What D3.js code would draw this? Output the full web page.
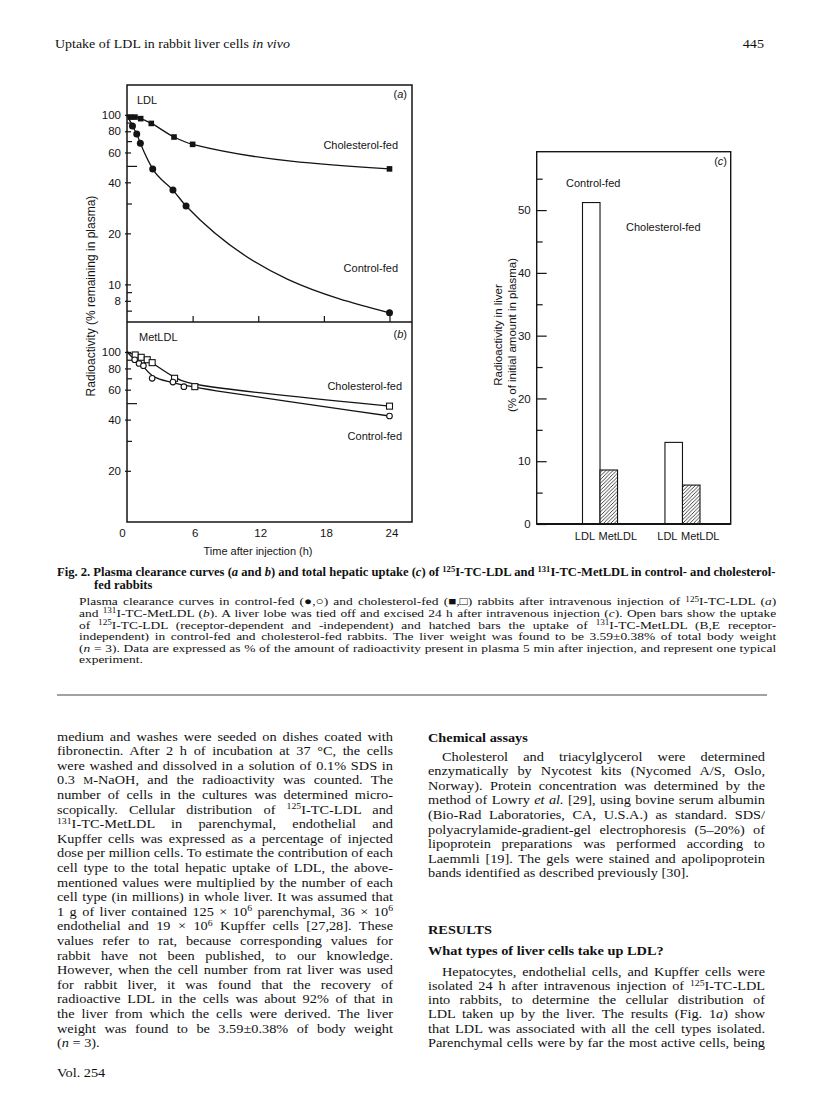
<!DOCTYPE html>
<html><head><meta charset="utf-8">
<script src="https://cdn.jsdelivr.net/npm/d3@7"></script>
<style>body{margin:0;background:#fff}svg{display:block}</style>
</head><body>
<script>
// ---------------- DATA ----------------
const timeTicks = [0, 6, 12, 18, 24];
const logTicksA = [100, 80, 60, 40, 20, 10, 8];
const logMinorA = [90, 70, 50, 30, 9, 7];
const logTicksB = [100, 80, 60, 40, 20];
const logMinorB = [90, 70, 50, 30];

// (a) LDL
const ldlCholT = [0.3, 0.73, 1.25, 2.22, 4.3, 6.0, 24];
const ldlCholV = [97, 97, 95, 89, 74, 67, 48];
const ldlCtrlT = [0.5, 0.89, 1.22, 2.35, 4.2, 5.4, 24];
const ldlCtrlV = [86, 77, 68, 48, 36, 29, 6.8];
// (b) MetLDL
const metCholT = [0.75, 1.3, 1.85, 2.3, 4.35, 6.2, 24];
const metCholV = [96, 93, 90, 86.5, 70, 62.5, 48];
const metCtrlT = [0.7, 1.1, 1.5, 2.3, 4.2, 5.2, 24];
const metCtrlV = [90, 85.5, 83, 70, 66.5, 62.5, 42];
const startT = 0, startV = 100;

// (c) hepatic uptake
const barGroups = ["Control-fed", "Cholesterol-fed"];
const barKinds = ["LDL", "MetLDL"];
const uptakeLDL = [51.2, 13.0];
const uptakeMetLDL = [8.6, 6.2];
const cTicks = [0, 10, 20, 30, 40, 50];
const cMinor = [5, 15, 25, 35, 45, 55];

// ---------------- TEXT ----------------
const headerLeft = "Uptake of LDL in rabbit liver cells {i:in vivo}";
const headerRight = "445";
const captionHead = "Fig. 2. Plasma clearance curves ({i:a} and {i:b}) and total hepatic uptake ({i:c}) of {s:125}I-TC-LDL and {s:131}I-TC-MetLDL in control- and cholesterol-";
const captionHead2 = "fed rabbits";
const captionBody = [
 "Plasma clearance curves in control-fed (●,○) and cholesterol-fed (■,□) rabbits after intravenous injection of {s:125}I-TC-LDL ({i:a})",
 "and {s:131}I-TC-MetLDL ({i:b}). A liver lobe was tied off and excised 24 h after intravenous injection ({i:c}). Open bars show the uptake",
 "of {s:125}I-TC-LDL (receptor-dependent and -independent) and hatched bars the uptake of {s:131}I-TC-MetLDL (B,E receptor-",
 "independent) in control-fed and cholesterol-fed rabbits. The liver weight was found to be 3.59±0.38% of total body weight",
 "({i:n} = 3). Data are expressed as % of the amount of radioactivity present in plasma 5 min after injection, and represent one typical",
 "experiment."
];
const leftCol = [
 "medium and washes were seeded on dishes coated with",
 "fibronectin. After 2 h of incubation at 37 °C, the cells",
 "were washed and dissolved in a solution of 0.1% SDS in",
 "0.3 {c:M}-NaOH, and the radioactivity was counted. The",
 "number of cells in the cultures was determined micro-",
 "scopically. Cellular distribution of {s:125}I-TC-LDL and",
 "{s:131}I-TC-MetLDL in parenchymal, endothelial and",
 "Kupffer cells was expressed as a percentage of injected",
 "dose per million cells. To estimate the contribution of each",
 "cell type to the total hepatic uptake of LDL, the above-",
 "mentioned values were multiplied by the number of each",
 "cell type (in millions) in whole liver. It was assumed that",
 "1 g of liver contained 125 × 10{s:6} parenchymal, 36 × 10{s:6}",
 "endothelial and 19 × 10{s:6} Kupffer cells [27,28]. These",
 "values refer to rat, because corresponding values for",
 "rabbit have not been published, to our knowledge.",
 "However, when the cell number from rat liver was used",
 "for rabbit liver, it was found that the recovery of",
 "radioactive LDL in the cells was about 92% of that in",
 "the liver from which the cells were derived. The liver",
 "weight was found to be 3.59±0.38% of body weight",
 "({i:n} = 3)."
];
const rightCol1 = [
 "Cholesterol and triacylglycerol were determined",
 "enzymatically by Nycotest kits (Nycomed A/S, Oslo,",
 "Norway). Protein concentration was determined by the",
 "method of Lowry {i:et al.} [29], using bovine serum albumin",
 "(Bio-Rad Laboratories, CA, U.S.A.) as standard. SDS/",
 "polyacrylamide-gradient-gel electrophoresis (5–20%) of",
 "lipoprotein preparations was performed according to",
 "Laemmli [19]. The gels were stained and apolipoprotein",
 "bands identified as described previously [30]."
];
const rightCol2 = [
 "Hepatocytes, endothelial cells, and Kupffer cells were",
 "isolated 24 h after intravenous injection of {s:125}I-TC-LDL",
 "into rabbits, to determine the cellular distribution of",
 "LDL taken up by the liver. The results (Fig. 1{i:a}) show",
 "that LDL was associated with all the cell types isolated.",
 "Parenchymal cells were by far the most active cells, being"
];

// ---------------- SETUP ----------------
const W = 816, H = 1093;
const SANS = "'Liberation Sans', Arial, Helvetica, sans-serif";
const SERIF = "'Liberation Serif', 'Times New Roman', serif";
const ink = "#141414";
const svg = d3.select("body").append("svg").attr("width", W).attr("height", H);
svg.append("rect").attr("width", W).attr("height", H).attr("fill", "#fff");

// ---------------- PANELS a & b ----------------
const PL = 127, PR = 412, PT = 85, PM = 322, PB = 522;
const x = d3.scaleLinear().domain([0, 24]).range([PL, 389.5]);
const yA = d3.scaleLog().domain([6, 150]).range([PM, PT]);
const yB = d3.scaleLog().domain([10, 150]).range([PB, PM]);

const fig = svg.append("g").attr("fill", ink);
const TICK_FS = 11.5;

function styleAxis(sel, size) {
  sel.select(".domain").remove();
  sel.attr("font-family", SANS).attr("font-size", size);
  sel.selectAll(".tick line").attr("stroke", ink).attr("stroke-width", 1.2);
  sel.selectAll(".tick text").attr("fill", ink);
}

[[yA, logTicksA, logMinorA], [yB, logTicksB, logMinorB]].forEach(([ys, maj, min]) => {
  fig.append("g").attr("transform", `translate(${PL},0)`)
    .call(d3.axisLeft(ys).tickValues(maj).tickSize(-4).tickPadding(6).tickFormat(d3.format("d")))
    .call(styleAxis, TICK_FS)
    .selectAll(".tick line").attr("x1", -2);
  fig.append("g").attr("transform", `translate(${PL},0)`)
    .call(d3.axisLeft(ys).tickValues(min).tickSize(-5).tickFormat(""))
    .call(styleAxis, TICK_FS)
    .selectAll(".tick line").attr("x2", d => d === 50 ? 10 : 5);
});

const xAx = fig.append("g").attr("transform", `translate(0,${PB})`)
  .call(d3.axisBottom(x).tickValues(timeTicks).tickSize(0).tickPadding(7))
  .call(styleAxis, TICK_FS);
xAx.selectAll(".tick text").attr("dx", d => d === 0 ? -5 : 2);
fig.append("g").attr("transform", `translate(0,${PM})`)
  .call(d3.axisTop(x).tickValues(timeTicks.slice(1)).tickSize(6).tickFormat(""))
  .call(styleAxis, TICK_FS);

fig.append("rect").attr("x", PL).attr("y", PT).attr("width", PR - PL).attr("height", PB - PT)
  .attr("fill", "none").attr("stroke", ink).attr("stroke-width", 1.5);
fig.append("line").attr("x1", PL).attr("x2", PR).attr("y1", PM).attr("y2", PM)
  .attr("stroke", ink).attr("stroke-width", 1.5);

function series(ts, vs) { return ts.map((t, i) => ({ t, v: vs[i] })); }
const sA1 = series(ldlCholT, ldlCholV), sA2 = series(ldlCtrlT, ldlCtrlV);
const sB1 = series(metCholT, metCholV), sB2 = series(metCtrlT, metCtrlV);
const start = { t: startT, v: startV };

const lineA = d3.line().x(d => x(d.t)).y(d => yA(d.v)).curve(d3.curveMonotoneX);
const lineB = d3.line().x(d => x(d.t)).y(d => yB(d.v)).curve(d3.curveBasis);

[[sA1, lineA], [sA2, lineA], [sB1, lineB], [sB2, lineB]].forEach(([s, ln]) => {
  fig.append("path").attr("d", ln([start, ...s])).attr("fill", "none")
    .attr("stroke", ink).attr("stroke-width", 1.3);
});

fig.selectAll(".sqA").data(sA1).join("rect")
  .attr("x", d => x(d.t) - 2.8).attr("y", d => yA(d.v) - 2.8).attr("width", 5.6).attr("height", 5.6)
  .attr("fill", ink);
fig.selectAll(".ciA").data(sA2).join("circle")
  .attr("cx", d => x(d.t)).attr("cy", d => yA(d.v)).attr("r", 3.5).attr("fill", ink);
fig.selectAll(".sqB").data(sB1).join("rect")
  .attr("x", d => x(d.t) - 3).attr("y", d => yB(d.v) - 3).attr("width", 6).attr("height", 6)
  .attr("fill", "#fff").attr("stroke", ink).attr("stroke-width", 1.1);
fig.selectAll(".ciB").data(sB2).join("circle")
  .attr("cx", d => x(d.t)).attr("cy", d => yB(d.v)).attr("r", 2.8)
  .attr("fill", "#fff").attr("stroke", ink).attr("stroke-width", 1.1);

function lab(txt, px, py, size, anchor, italic) {
  const t = fig.append("text").attr("x", px).attr("y", py).attr("font-family", SANS)
    .attr("font-size", size).attr("text-anchor", anchor || "start").attr("fill", ink);
  if (italic) {
    t.append("tspan").text("(");
    t.append("tspan").attr("font-style", "italic").text(italic);
    t.append("tspan").text(")");
  } else t.text(txt);
  return t;
}
lab("LDL", 137, 103.5, 11);
lab("", 407, 97.5, 11, "end", "a");
lab("Cholesterol-fed", 398, 148.5, 11, "end");
lab("Control-fed", 398, 272, 11, "end");
lab("MetLDL", 139, 341, 11);
lab("", 407, 338, 11, "end", "b");
lab("Cholesterol-fed", 402, 390, 11, "end");
lab("Control-fed", 402, 440, 11, "end");
lab("Time after injection (h)", 258, 555, 11, "middle");
fig.append("text").attr("transform", "translate(95,296) rotate(-90)").attr("text-anchor", "middle")
  .attr("font-family", SANS).attr("font-size", 12).attr("fill", ink)
  .text("Radioactivity (% remaining in plasma)");

// ---------------- PANEL c ----------------
const CL = 536.7, CR = 730.7, CT = 151.7, CB = 524;
const yC = d3.scaleLinear().domain([0, 59.3]).range([CB, CT]);
const xG = d3.scaleBand().domain(barGroups).range([582.5, 700]).paddingInner(0.575).paddingOuter(0);
const xK = d3.scaleBand().domain(barKinds).range([0, xG.bandwidth()]);

const defs = svg.append("defs");
const pat = defs.append("pattern").attr("id", "hatch").attr("patternUnits", "userSpaceOnUse")
  .attr("width", 3.6).attr("height", 3.6);
pat.append("rect").attr("width", 3.6).attr("height", 3.6).attr("fill", "#fff");
pat.append("path").attr("d", "M-1,1 L1,-1 M0,3.6 L3.6,0 M2.6,4.6 L4.6,2.6")
  .attr("stroke", ink).attr("stroke-width", 0.8);

const cG = fig.append("g");
cG.append("g").attr("transform", `translate(${CL},0)`)
  .call(d3.axisLeft(yC).tickValues(cTicks).tickSize(-10).tickPadding(6))
  .call(styleAxis, TICK_FS);
cG.append("g").attr("transform", `translate(${CL},0)`)
  .call(d3.axisLeft(yC).tickValues(cMinor).tickSize(-6).tickFormat(""))
  .call(styleAxis, TICK_FS);

const barData = barGroups.map((g, i) => ({ g, LDL: uptakeLDL[i], MetLDL: uptakeMetLDL[i] }));
barData.forEach(d => {
  barKinds.forEach(k => {
    cG.append("rect").attr("x", xG(d.g) + xK(k)).attr("y", yC(d[k]))
      .attr("width", xK.bandwidth()).attr("height", CB - yC(d[k]))
      .attr("fill", k === "LDL" ? "#fff" : "url(#hatch)")
      .attr("stroke", ink).attr("stroke-width", 1.1);
  });
  cG.append("text").attr("x", xG(d.g) + xK("LDL") + xK.bandwidth() - 5).attr("y", 540)
    .attr("text-anchor", "end").attr("font-family", SANS).attr("font-size", 11).attr("fill", ink).text("LDL");
  cG.append("text").attr("x", xG(d.g) + xK("MetLDL") - 1.5).attr("y", 540)
    .attr("font-family", SANS).attr("font-size", 11).attr("fill", ink).text("MetLDL");
});
cG.append("rect").attr("x", CL).attr("y", CT).attr("width", CR - CL).attr("height", CB - CT)
  .attr("fill", "none").attr("stroke", ink).attr("stroke-width", 1.4);
cG.append("line").attr("x1", CL).attr("x2", CR).attr("y1", CB).attr("y2", CB)
  .attr("stroke", ink).attr("stroke-width", 1.9);

lab("", 727, 164.5, 11, "end", "c");
lab("Control-fed", 566, 186.5, 11);
lab("Cholesterol-fed", 626, 231, 11);
const ct = fig.append("text").attr("transform", "translate(0,335) rotate(-90)").attr("text-anchor", "middle")
  .attr("font-family", SANS).attr("font-size", 11.5).attr("fill", ink);
ct.append("tspan").attr("x", 0).attr("y", 502).text("Radioactivity in liver");
ct.append("tspan").attr("x", 0).attr("y", 516).text("(% of initial amount in plasma)");

// ---------------- BODY TEXT ----------------
const txt = svg.append("g").attr("fill", "#111");
function parse(str) {
  const re = /\{(s|i|c):([^}]*)\}/g;
  let last = 0, m, parts = [];
  while ((m = re.exec(str)) !== null) {
    if (m.index > last) parts.push({ k: "n", s: str.slice(last, m.index) });
    parts.push({ k: m[1], s: m[2] });
    last = re.lastIndex;
  }
  if (last < str.length) parts.push({ k: "n", s: str.slice(last) });
  return parts;
}
function makeText(str, size, bold, anchor) {
  const t = txt.append("text").attr("x", 0).attr("y", 0)
    .attr("font-family", SERIF).attr("font-size", size)
    .attr("font-weight", bold ? "bold" : "normal")
    .attr("text-anchor", anchor || "start");
  const parts = parse(str);
  let shifted = 0;
  parts.forEach(p => {
    const ts = t.append("tspan").text(p.s);
    if (p.k === "s") {
      const sh = size * 0.33;
      ts.attr("font-size", size * 0.68);
      if (!shifted) { ts.attr("dy", -sh); shifted = sh; }
    } else {
      if (shifted) { ts.attr("dy", shifted); shifted = 0; }
      if (p.k === "i") ts.attr("font-style", "italic");
      if (p.k === "c") ts.attr("font-size", size * 0.78);
    }
  });
  const plain = parts.map(p => p.s).join("");
  return { t, spaces: (plain.match(/ /g) || []).length, len: t.node().getComputedTextLength() };
}
// lines: [{str, x, y, width|null}]
function block(lines, size, opts = {}) {
  const items = lines.map(l => Object.assign({}, l, makeText(l.str, size, opts.bold, opts.anchor)));
  const ratios = items.filter(it => it.width).map(it => it.width / it.len);
  let sx = ratios.length ? Math.min(...ratios) : 1;
  sx = Math.max(1, Math.min(opts.maxStretch || 1.15, sx));
  if (opts.sx) sx = opts.sx;
  items.forEach(it => {
    it.t.attr("transform", `translate(${it.x},${it.y}) scale(${sx},1)`);
    if (it.width && it.spaces > 0) {
      const ws = (it.width / sx - it.len) / it.spaces;
      it.t.style("word-spacing", ws + "px");
    }
  });
  return sx;
}

block([{ str: headerLeft, x: 55, y: 48, width: 235 }], 13.5);
block([{ str: headerRight, x: 764, y: 48 }], 13.5, { anchor: "end", sx: 1.05 });

const headSx = block([{ str: captionHead, x: 57, y: 575.5, width: 719 }], 12, { bold: true });
block([{ str: captionHead2, x: 94, y: 588.5 }], 12, { bold: true, sx: headSx });
block(captionBody.map((s, i) => ({ str: s, x: 79, y: 605.3 + 11.6 * i,
  width: i < captionBody.length - 1 ? 697 : null })), 11.2, { maxStretch: 1.2 });

txt.append("line").attr("x1", 57).attr("x2", 767).attr("y1", 695).attr("y2", 695)
  .attr("stroke", "#444").attr("stroke-width", 1);

const colSx = block(leftCol.map((s, i) => ({ str: s, x: 57, y: 740.5 + 14.6 * i,
  width: i < leftCol.length - 1 ? 336 : null })), 12.9);
block([{ str: "Vol. 254", x: 57, y: 1077 }], 12.9, { sx: colSx });

block([{ str: "Chemical assays", x: 428, y: 742 },
       { str: "RESULTS", x: 428, y: 933.5 },
       { str: "What types of liver cells take up LDL?", x: 428, y: 955 }], 12.9, { bold: true, sx: colSx });
block(rightCol1.map((s, i) => {
  const x0 = i === 0 ? 442 : 428;
  return { str: s, x: x0, y: 760.5 + 14.6 * i, width: i < rightCol1.length - 1 ? 765 - x0 : null };
}), 12.9, { sx: colSx });
block(rightCol2.map((s, i) => {
  const x0 = i === 0 ? 442 : 428;
  return { str: s, x: x0, y: 975.5 + 14.3 * i, width: 765 - x0 };
}), 12.9, { sx: colSx });
</script>
</body></html>
